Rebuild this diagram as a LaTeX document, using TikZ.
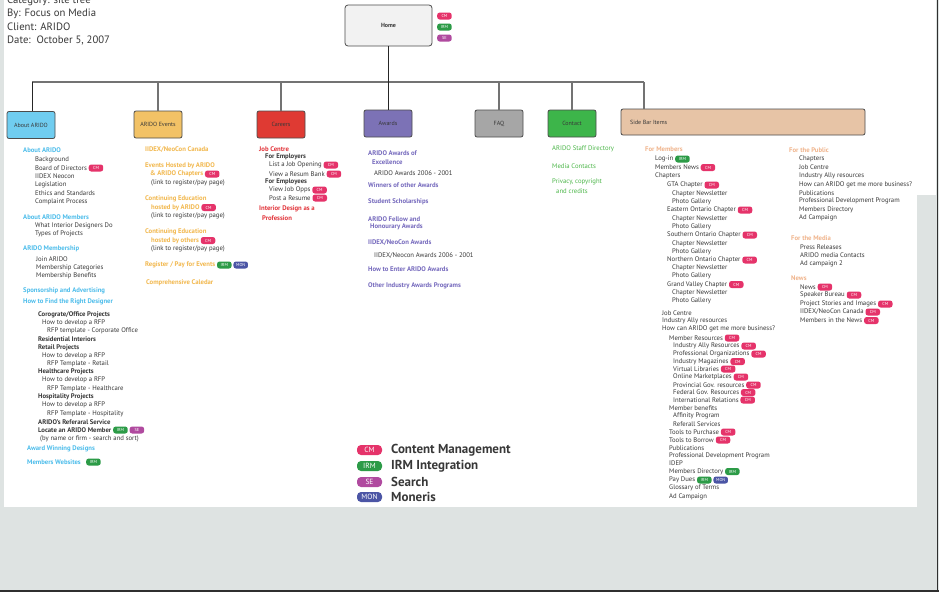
\documentclass[tikz,border=0pt]{standalone}
\usepackage{fontspec}
\setmainfont{PT Sans}
\usetikzlibrary{positioning}
\definecolor{pagebg}{HTML}{DEE3E2}
\definecolor{darkline}{HTML}{2F2F2F}
\definecolor{txtc}{HTML}{383838}
\definecolor{cmcol}{HTML}{E5336A}
\definecolor{irmcol}{HTML}{2C9B47}
\definecolor{secol}{HTML}{B04A9F}
\definecolor{moncol}{HTML}{4B55A5}
\definecolor{aboutB}{HTML}{70CDF0}
\definecolor{aboutT}{HTML}{4DBDEB}
\definecolor{eventsB}{HTML}{F2C266}
\definecolor{eventsT}{HTML}{F2B84E}
\definecolor{careersB}{HTML}{DF3A33}
\definecolor{careersT}{HTML}{E2343A}
\definecolor{awardsB}{HTML}{7C72B6}
\definecolor{awardsT}{HTML}{7569BD}
\definecolor{faqB}{HTML}{A6A6A6}
\definecolor{contactB}{HTML}{3DB54A}
\definecolor{contactT}{HTML}{4BB648}
\definecolor{sideB}{HTML}{E7C4A6}
\definecolor{sideT}{HTML}{F0B48C}
\newcommand\txl[5]{\node[#4] (#1) at (#2,#3) {#5};}
\newcommand\tgx[3]{\node[tagnode,fill=#2col,right=1.5pt of #1] (#1#2) {#3};}
\begin{document}
\begin{tikzpicture}[x=1pt,y=-1pt,
  txt/.style={anchor=west, inner sep=0pt, font=\fontsize{6.7}{7.5}\selectfont, text=txtc},
  txtb/.style={txt, font=\fontsize{6.7}{7.5}\selectfont\bfseries},
  hab/.style={txtb, text=aboutT},
  hev/.style={txtb, text=eventsT},
  hca/.style={txtb, text=careersT},
  haw/.style={txtb, text=awardsT},
  hco/.style={txt, text=contactT},
  hsd/.style={txtb, text=sideT},
  head/.style={anchor=west, inner sep=0pt, font=\fontsize{10.7}{12}\selectfont, text=txtc},
  tagnode/.style={rounded corners=2.5pt, inner sep=0.5pt, minimum width=14.5pt, minimum height=7pt, font=\fontsize{4.3}{4.3}\selectfont, text=white},
  legtag/.style={rounded corners=4pt, inner sep=0.5pt, minimum width=25pt, minimum height=10pt, font=\fontsize{7.5}{7.5}\selectfont, text=white},
  leglab/.style={anchor=west, inner sep=0pt, font=\fontsize{13}{13}\selectfont\bfseries, text=txtc},
  secbox/.style={draw=black!70, line width=0.8pt, rounded corners=2pt, minimum width=48pt, minimum height=27pt, inner sep=0pt, font=\fontsize{6}{6.5}\selectfont, text=txtc},
  conn/.style={draw=black!55, line width=1.1pt},
  connk/.style={draw=black!85, line width=0.8pt}]
\useasboundingbox (0,0) rectangle (939,592);
% page
\fill[pagebg] (0,0) rectangle (939,592);
\fill[white] (4,0) rectangle (917,507);
\fill[white] (917,0) rectangle (936,195);
\draw[darkline, line width=1.5pt] (0,591) -- (939,591);
\draw[darkline, line width=1.2pt] (937.5,0) -- (937.5,592);
% header
\txl{h0}{7}{1}{head}{Category: site tree}
\txl{h1}{7}{14}{head}{By: Focus on Media}
\txl{h2}{7}{27}{head}{Client: ARIDO}
\txl{h3}{7}{40}{head}{Date:\ \ October 5, 2007}
% home
\node[draw=black!70, line width=0.8pt, rounded corners=3pt, fill=black!5, minimum width=87pt, minimum height=41pt, font=\fontsize{6}{6.5}\selectfont\bfseries, text=txtc] (home) at (388.5,25.5) {Home};
\node[tagnode, fill=cmcol, anchor=west] (homecm) at (437,16) {CM};
\node[tagnode, fill=irmcol, anchor=west] (homeirm) at (437,27) {IRM};
\node[tagnode, fill=secol, anchor=west] (homese) at (437,38) {SE};
% section boxes
\node[secbox, fill=aboutB] (about) at (31,125) {About ARIDO};
\node[secbox, fill=eventsB] (events) at (158,124.5) {ARIDO Events};
\node[secbox, fill=careersB] (careers) at (281,124.5) {Careers};
\node[secbox, fill=awardsB] (awards) at (388,123.5) {Awards};
\node[secbox, fill=faqB] (faq) at (499,123.5) {FAQ};
\node[secbox, fill=contactB] (contact) at (572,123.5) {Contact};
\node[secbox, fill=sideB, minimum width=244pt, minimum height=26pt] (side) at (743,122) {};
\node[txt, font=\fontsize{6}{6.5}\selectfont] (sidelab) at (630,122) {Side Bar Items};
% connectors
\coordinate (barL) at (32,82);
\coordinate (barR) at (644,82);
\draw[conn] (barL) -- (barR);
\draw[connk] (home.south) -- (home.south |- barL);
\draw[connk] (barL) -- (barL |- about.north);
\draw[conn] (events.north) -- (events.north |- barL);
\draw[conn] (careers.north) -- (careers.north |- barL);
\draw[connk] (awards.north) -- (awards.north |- barL);
\draw[conn] (faq.north) -- (faq.north |- barL);
\draw[conn] (contact.north) -- (contact.north |- barL);
\draw[conn] (barR) -- (barR |- side.north);
% About ARIDO column
\txl{ab1}{23}{150}{hab}{About ARIDO}
\txl{ab2}{35}{160}{txt}{Background}
\txl{ab3}{35}{168}{txt}{Board of Directors}\tgx{ab3}{cm}{CM}
\txl{ab4}{35}{176.5}{txt}{IIDEX Neocon}
\txl{ab5}{35}{185}{txt}{Legislation}
\txl{ab6}{35}{193}{txt}{Ethics and Standards}
\txl{ab7}{35}{201.5}{txt}{Complaint Process}
\txl{ab8}{23}{217}{hab}{About ARIDO Members}
\txl{ab9}{35}{226}{txt}{What Interior Designers Do}
\txl{ab10}{35}{234}{txt}{Types of Projects}
\txl{ab11}{23}{249}{hab}{ARIDO Membership}
\txl{ab12}{36}{259}{txt}{Join ARIDO}
\txl{ab13}{36}{267.5}{txt}{Membership Categories}
\txl{ab14}{36}{276}{txt}{Membership Benefits}
\txl{ab15}{23}{291}{hab}{Sponsorship and Advertising}
\txl{ab16}{23}{302}{hab}{How to Find the Right Designer}
\txl{ab17}{38}{315}{txtb}{Corograte/Office Projects}
\txl{ab18}{42}{323}{txt}{How to develop a RFP}
\txl{ab19}{47}{331}{txt}{RFP template - Corporate Office}
\txl{ab20}{38}{339}{txtb}{Residential Interiors}
\txl{ab21}{38}{347.5}{txtb}{Retail Projects}
\txl{ab22}{42}{356}{txt}{How to develop a RFP}
\txl{ab23}{47}{364}{txt}{RFP Template - Retail}
\txl{ab24}{38}{372}{txtb}{Healthcare Projects}
\txl{ab25}{42}{380}{txt}{How to develop a RFP}
\txl{ab26}{47}{388.5}{txt}{RFP Template - Healthcare}
\txl{ab27}{38}{397}{txtb}{Hospitality Projects}
\txl{ab28}{42}{405}{txt}{How to develop a RFP}
\txl{ab29}{47}{413.5}{txt}{RFP Template - Hospitality}
\txl{ab30}{38}{422}{txtb}{ARIDO's Referaral Service}
\txl{ab31}{38}{430}{txtb}{Locate an ARIDO Member}\tgx{ab31}{irm}{IRM}\tgx{ab31irm}{se}{SE}
\txl{ab32}{40}{438.5}{txt}{(by name or firm - search and sort)}
\txl{ab33}{27}{449}{hab}{Award Winning Designs}
\txl{ab34}{27}{462}{hab}{Members Websites}\node[tagnode,fill=irmcol,right=5pt of ab34] (ab34irm) {IRM};
% ARIDO Events column
\txl{ev1}{145}{150}{hev}{IIDEX/NeoCon Canada}
\txl{ev2}{145}{166}{hev}{Events Hosted by ARIDO}
\txl{ev3}{150}{174}{hev}{\& ARIDO Chapters}\tgx{ev3}{cm}{CM}
\txl{ev4}{151}{183}{txt}{(link to register/pay page)}
\txl{ev5}{145}{199}{hev}{Continuing Education}
\txl{ev6}{151}{207.5}{hev}{hosted by ARIDO}\tgx{ev6}{cm}{CM}
\txl{ev7}{151}{216}{txt}{(link to register/pay page)}
\txl{ev8}{145}{232}{hev}{Continuing Education}
\txl{ev9}{151}{240.5}{hev}{hosted by others}\tgx{ev9}{cm}{CM}
\txl{ev10}{151}{249}{txt}{(link to register/pay page)}
\txl{ev11}{145}{265}{hev}{Register / Pay for Events}\tgx{ev11}{irm}{IRM}\tgx{ev11irm}{mon}{MON}
\txl{ev12}{146}{283}{hev}{Comprehensive Caledar}
% Careers column
\txl{ca1}{259}{149}{hca}{Job Centre}
\txl{ca2}{265}{157}{txtb}{For Employers}
\txl{ca3}{269}{165}{txt}{List a Job Opening}\tgx{ca3}{cm}{CM}
\txl{ca4}{269}{174}{txt}{View a Resum Bank}\tgx{ca4}{cm}{CM}
\txl{ca5}{265}{182}{txtb}{For Employees}
\txl{ca6}{269}{190}{txt}{View Job Opps}\tgx{ca6}{cm}{CM}
\txl{ca7}{269}{198}{txt}{Post a Resume}\tgx{ca7}{cm}{CM}
\txl{ca8}{259}{209}{hca}{Interior Design as a}
\txl{ca9}{262}{218}{hca}{Profession}
% Awards column
\txl{aw1}{368}{153}{haw}{ARIDO Awards of}
\txl{aw2}{372}{162}{haw}{Excellence}
\txl{aw3}{374}{173}{txt}{ARIDO Awards 2006 - 2001}
\txl{aw4}{368}{185}{haw}{Winners of other Awards}
\txl{aw5}{368}{202}{haw}{Student Scholarships}
\txl{aw6}{368}{219}{haw}{ARIDO Fellow and}
\txl{aw7}{370}{227}{haw}{Honourary Awards}
\txl{aw8}{368}{243}{haw}{IIDEX/NeoCon Awards}
\txl{aw9}{374}{256}{txt}{IIDEX/Neocon Awards 2006 - 2001}
\txl{aw10}{368}{269}{haw}{How to Enter ARIDO Awards}
\txl{aw11}{368}{286}{haw}{Other Industry Awards Programs}
% Contact column
\txl{co1}{552}{149}{hco}{ARIDO Staff Directory}
\txl{co2}{552}{166}{hco}{Media Contacts}
\txl{co3}{552}{182}{hco}{Privacy, copyright}
\txl{co4}{556}{191}{hco}{and credits}
% For Members
\txl{fm1}{645}{149}{hsd}{For Members}
\txl{fm2}{655}{159}{txt}{Log-in}\tgx{fm2}{irm}{IRM}
\txl{fm3}{655}{167.5}{txt}{Members News}\tgx{fm3}{cm}{CM}
\txl{fm4}{655}{176}{txt}{Chapters}
\txl{fm5}{667}{185}{txt}{GTA Chapter}\tgx{fm5}{cm}{CM}
\txl{fm6}{672}{193.5}{txt}{Chapter Newsletter}
\txl{fm7}{672}{202}{txt}{Photo Gallery}
\txl{fm8}{667}{210}{txt}{Eastern Ontario Chapter}\tgx{fm8}{cm}{CM}
\txl{fm9}{672}{218.5}{txt}{Chapter Newsletter}
\txl{fm10}{672}{227}{txt}{Photo Gallery}
\txl{fm11}{667}{235}{txt}{Southern Ontario Chapter}\tgx{fm11}{cm}{CM}
\txl{fm12}{672}{243.5}{txt}{Chapter Newsletter}
\txl{fm13}{672}{251.5}{txt}{Photo Gallery}
\txl{fm14}{667}{260}{txt}{Northern Ontario Chapter}\tgx{fm14}{cm}{CM}
\txl{fm15}{672}{268}{txt}{Chapter Newsletter}
\txl{fm16}{672}{276}{txt}{Photo Gallery}
\txl{fm17}{667}{284.5}{txt}{Grand Valley Chapter}\tgx{fm17}{cm}{CM}
\txl{fm18}{672}{293}{txt}{Chapter Newsletter}
\txl{fm19}{672}{301}{txt}{Photo Gallery}
\txl{fm20}{662}{313}{txt}{Job Centre}
\txl{fm21}{662}{321}{txt}{Industry Ally resources}
\txl{fm22}{662}{329}{txt}{How can ARIDO get me more business?}
\txl{fm23}{669}{338}{txt}{Member Resources}\tgx{fm23}{cm}{CM}
\txl{fm24}{673}{346}{txt}{Industry Ally Resources}\tgx{fm24}{cm}{CM}
\txl{fm25}{673}{354}{txt}{Professional Organizations}\tgx{fm25}{cm}{CM}
\txl{fm26}{673}{361.5}{txt}{Industry Magazines}\tgx{fm26}{cm}{CM}
\txl{fm27}{673}{369}{txt}{Virtual Libraries}\tgx{fm27}{cm}{CM}
\txl{fm28}{673}{377}{txt}{Online Marketplaces}\tgx{fm28}{cm}{CM}
\txl{fm29}{673}{385}{txt}{Provincial Gov. resources}\tgx{fm29}{cm}{CM}
\txl{fm30}{673}{392.5}{txt}{Federal Gov. Resources}\tgx{fm30}{cm}{CM}
\txl{fm31}{673}{400}{txt}{International Relations}\tgx{fm31}{cm}{CM}
\txl{fm32}{669}{408}{txt}{Member benefits}
\txl{fm33}{673}{416}{txt}{Affinity Program}
\txl{fm34}{673}{424}{txt}{Referall Services}
\txl{fm35}{669}{432}{txt}{Tools to Purchase}\tgx{fm35}{cm}{CM}
\txl{fm36}{669}{440}{txt}{Tools to Borrow}\tgx{fm36}{cm}{CM}
\txl{fm37}{669}{448}{txt}{Publications}
\txl{fm38}{669}{455.5}{txt}{Professional Development Program}
\txl{fm39}{669}{463.5}{txt}{IDEP}
\txl{fm40}{669}{471.5}{txt}{Members Directory}\tgx{fm40}{irm}{IRM}
\txl{fm41}{669}{480}{txt}{Pay Dues}\tgx{fm41}{irm}{IRM}\tgx{fm41irm}{mon}{MON}
\txl{fm42}{669}{488}{txt}{Glossary of Terms}
\txl{fm43}{669}{497}{txt}{Ad Campaign}
% For the Public / Media / News
\txl{fp1}{789}{150}{hsd}{For the Public}
\txl{fp2}{799}{159}{txt}{Chapters}
\txl{fp3}{799}{167.5}{txt}{Job Centre}
\txl{fp4}{799}{176}{txt}{Industry Ally resources}
\txl{fp5}{799}{184.5}{txt}{How can ARIDO get me more business?}
\txl{fp6}{799}{193}{txt}{Publications}
\txl{fp7}{799}{201}{txt}{Professional Development Program}
\txl{fp8}{799}{209.5}{txt}{Members Directory}
\txl{fp9}{799}{218}{txt}{Ad Campaign}
\txl{md1}{791}{238}{hsd}{For the Media}
\txl{md2}{800}{247}{txt}{Press Releases}
\txl{md3}{800}{255.5}{txt}{ARIDO media Contacts}
\txl{md4}{800}{264}{txt}{Ad campaign 2}
\txl{nw1}{791}{278}{hsd}{News}
\txl{nw2}{800}{287}{txt}{News}\tgx{nw2}{cm}{CM}
\txl{nw3}{800}{295}{txt}{Speaker Bureau}\tgx{nw3}{cm}{CM}
\txl{nw4}{800}{304}{txt}{Project Stories and Images}\tgx{nw4}{cm}{CM}
\txl{nw5}{800}{312}{txt}{IIDEX/NeoCon Canada}\tgx{nw5}{cm}{CM}
\txl{nw6}{800}{320.5}{txt}{Members in the News}\tgx{nw6}{cm}{CM}
% legend
\node[legtag, fill=cmcol] (lgcm) at (369.5,450) {CM};
\node[legtag, fill=irmcol] (lgirm) at (369.5,466) {IRM};
\node[legtag, fill=secol] (lgse) at (369.5,482) {SE};
\node[legtag, fill=moncol] (lgmon) at (369.5,497) {MON};
\node[leglab] (lbcm) at (391,450) {Content Management};
\node[leglab] (lbirm) at (391,466) {IRM Integration};
\node[leglab] (lbse) at (391,482) {Search};
\node[leglab] (lbmon) at (391,497) {Moneris};
\end{tikzpicture}
\end{document}
